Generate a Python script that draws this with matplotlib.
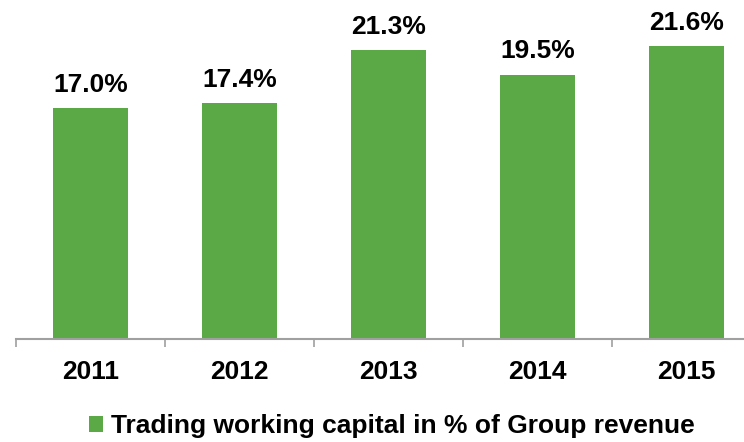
import matplotlib
matplotlib.use('Agg')
import matplotlib.pyplot as plt
import numpy as np

plt.rcParams['font.family'] = ['Liberation Sans', 'DejaVu Sans']
plt.rcParams['font.weight'] = 'bold'

years = ['2011', '2012', '2013', '2014', '2015']
values = [17.0, 17.4, 21.3, 19.5, 21.6]
labels = ['17.0%', '17.4%', '21.3%', '19.5%', '21.6%']
series_name = 'Trading working capital in % of Group revenue'
bar_color = '#5BA946'
axis_color = '#A0A0A0'

fig = plt.figure(figsize=(7.44, 4.42), dpi=100)
# axes runs off the right edge, the original picture is cropped there
ax = fig.add_axes([16 / 744, 103 / 442, 745 / 744, 339 / 442])

x = np.arange(len(years))
bars = ax.bar(x, values, width=0.5, color=bar_color, label=series_name)
ax.bar_label(bars, labels=labels, padding=8, fontsize=19, fontweight='bold')

ax.set_xlim(-0.5, len(years) - 0.5)
ax.set_ylim(0, 25)
ax.set_yticks([])

for side in ['top', 'right', 'left']:
    ax.spines[side].set_visible(False)
ax.spines['bottom'].set_color(axis_color)
ax.spines['bottom'].set_linewidth(1.5)

ax.set_xticks(x)
ax.set_xticklabels(years, fontsize=19, fontweight='bold')
ax.tick_params(axis='x', which='major', length=0, pad=15)
ax.set_xticks(np.arange(-0.5, len(years), 1.0), minor=True)
ax.tick_params(axis='x', which='minor', length=6, width=1.2, color=axis_color)

leg = fig.legend(handles=[bars], labels=[series_name], loc='center',
                 bbox_to_anchor=(392 / 744, 16 / 442), frameon=False,
                 fontsize=19, handlelength=0.55, handleheight=0.55,
                 handletextpad=0.3, borderaxespad=0)
for t in leg.get_texts():
    t.set_fontweight('bold')

fig.savefig('out.png', dpi=100)
